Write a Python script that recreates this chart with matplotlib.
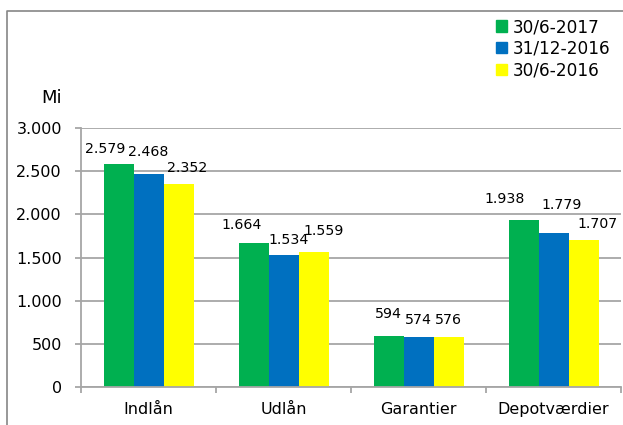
import matplotlib
matplotlib.use("Agg")
import matplotlib.pyplot as plt
from matplotlib.lines import Line2D
import numpy as np

categories = ["Indlån", "Udlån", "Garantier", "Depotværdier"]
series_names = ["30/6-2017", "31/12-2016", "30/6-2016"]
v_2017_06 = [2579, 1664, 594, 1938]
v_2016_12 = [2468, 1534, 574, 1779]
v_2016_06 = [2352, 1559, 576, 1707]
yticks = [0, 500, 1000, 1500, 2000, 2500, 3000]
ytick_labels = ["0", "500", "1.000", "1.500", "2.000", "2.500", "3.000"]

colors = ["#00B050", "#0070C0", "#FFFF00"]
# label offsets in pixels (dx, dy above bar top) for each series/category
label_offsets = [
    [(-13, 15), (-12, 18.5), (0, 22), (-19, 21)],
    [(0, 22), (5.5, 14.5), (0, 17), (8, 28)],
    [(9, 15.5), (10.5, 21), (0, 17), (14, 16)],
]

plt.rcParams['font.family'] = ['DejaVu Sans']
W, H = 623, 425
fig = plt.figure(figsize=(W / 100, H / 100), dpi=100)
ax = fig.add_axes([81 / W, 1 - 387 / H, (621 - 81) / W, (387 - 128) / H])

x = np.arange(len(categories))
bw = 30 / 135
series = [v_2017_06, v_2016_12, v_2016_06]
grid_c = "#a6a6a6"
ax.set_axisbelow(True)
for i, (vals, col) in enumerate(zip(series, colors)):
    xs = x + (i - 1) * bw
    ax.bar(xs, vals, width=bw, color=col, label=series_names[i], zorder=2)
    for j, v in enumerate(vals):
        dx, dy = label_offsets[i][j]
        txt = f"{v // 1000}.{v % 1000:03d}" if v >= 1000 else str(v)
        ax.annotate(txt, xy=(xs[j], v),
                    xytext=(dx * 0.72, dy * 0.72), textcoords="offset points",
                    ha="center", va="center", fontsize=10.2, color="#000000")

ax.set_xlim(-0.5, 3.5)
ax.set_ylim(0, 3000)
ax.set_yticks(yticks)
ax.set_yticklabels(ytick_labels)
ax.yaxis.grid(True, color=grid_c, linewidth=1.3)
ax.set_xticks(x)
ax.set_xticklabels(categories)
ax.set_xticks(np.arange(-0.5, 4, 1), minor=True)
ax.tick_params(axis="x", which="major", length=0, pad=11, labelsize=11.5)
ax.tick_params(axis="x", which="minor", length=4.3, width=1.3, color=grid_c)
ax.tick_params(axis="y", length=4.3, width=1.3, color=grid_c, labelsize=11.5, pad=9.4)
for s in ["top", "right"]:
    ax.spines[s].set_visible(False)
for s in ["left", "bottom"]:
    ax.spines[s].set_color(grid_c)
    ax.spines[s].set_linewidth(1.3)

handles = [plt.Rectangle((0, 0), 1, 1, color=c) for c in colors]
fig.legend(handles, series_names, loc="upper left", bbox_to_anchor=(496 / W, 1 - 18 / H),
           frameon=False, fontsize=12.2, handlelength=0.64, handleheight=0.64,
           handletextpad=0.35, labelspacing=0.22, borderpad=0, borderaxespad=0)

fig.text(62 / W, 1 - 98 / H, "Mi", ha="right", va="center", fontsize=13)

fig.add_artist(Line2D([7 / W, 7 / W, 1], [0, 1 - 11 / H, 1 - 11 / H],
                      transform=fig.transFigure, color="#868686", linewidth=1.2))

fig.savefig("out.png", dpi=100)
